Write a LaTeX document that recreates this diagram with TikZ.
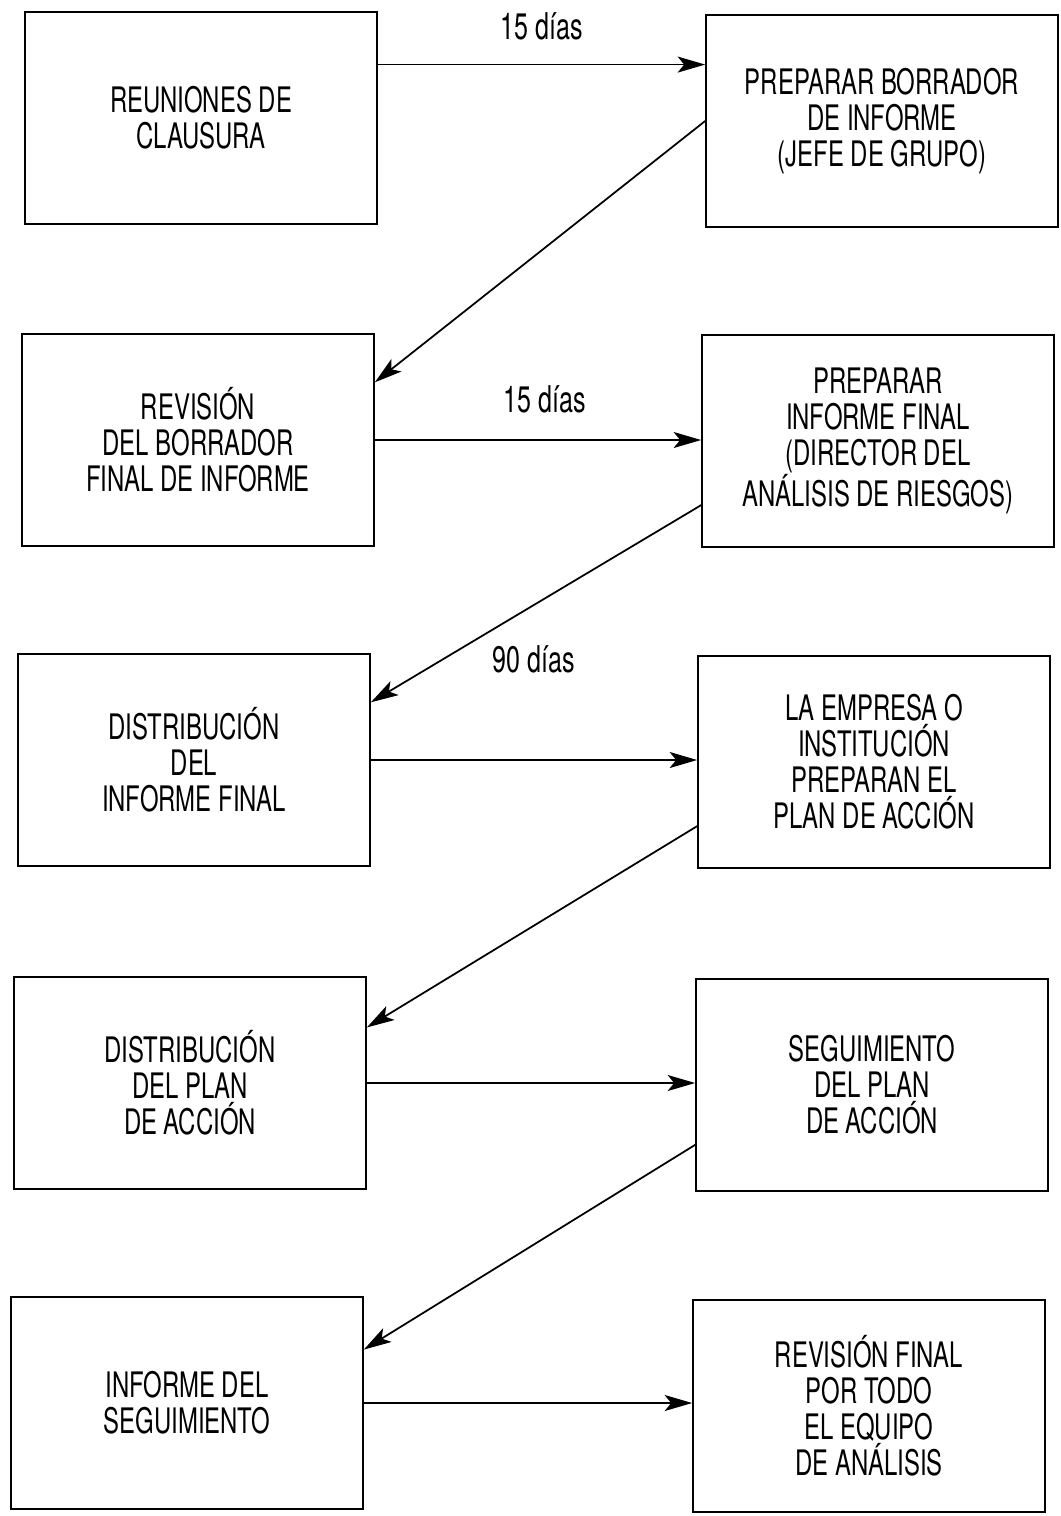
\documentclass[tikz,border=0pt]{standalone}
\usepackage{fontspec}
\setmainfont{TeX Gyre Heros}[FakeStretch=0.68]
\usepackage{tikz}
\usetikzlibrary{arrows.meta,positioning,calc}

\begin{document}
\begin{tikzpicture}[
  x=0.02cm, y=-0.02cm,
  box/.style={draw, line width=1pt, minimum width=7.04cm, minimum height=4.24cm,
              align=center, inner sep=0pt, font=\fontsize{20}{20.5}\selectfont},
  arrow/.style={-{Stealth[length=5.5mm,width=3.2mm,inset=1.3mm]},line width=1pt}
]
\useasboundingbox (0,0) rectangle (1061,1516);
% left column
\node[box] (paso1) at (201,118) {REUNIONES DE\\CLAUSURA};
\node[box] (paso3) at (198,440) {REVISIÓN\\DEL BORRADOR\\FINAL DE INFORME};
\node[box] (paso5) at (194,760) {DISTRIBUCIÓN\\DEL\\INFORME FINAL};
\node[box] (paso7) at (190,1083) {DISTRIBUCIÓN\\DEL PLAN\\DE ACCIÓN};
\node[box] (paso9) at (187,1403) {INFORME DEL\\SEGUIMIENTO};
% right column
\node[box] (paso2) at (882,121) {PREPARAR BORRADOR\\DE INFORME\\(JEFE DE GRUPO)};
\node[box] (paso4) at (878,441) {PREPARAR\\INFORME FINAL\\(DIRECTOR DEL\\ANÁLISIS DE RIESGOS)};
\node[box] (paso6) at (874,762) {LA EMPRESA O\\INSTITUCIÓN\\PREPARAN EL\\PLAN DE ACCIÓN};
\node[box] (paso8) at (872,1085) {SEGUIMIENTO\\DEL PLAN\\DE ACCIÓN};
\node[box] (paso10) at (869,1406) {REVISIÓN FINAL\\POR TODO\\EL EQUIPO\\DE ANÁLISIS};

% horizontal arrows
\coordinate (sal1) at ($(paso1.north east)!0.25!(paso1.south east)$);
\draw[arrow] (sal1) -- (sal1 -| paso2.west)
  node[font=\fontsize{21}{21}\selectfont,midway,yshift=0.76cm] {15 días};
\draw[arrow] (paso3.east) -- (paso3.east -| paso4.west)
  node[font=\fontsize{21}{21}\selectfont,midway,yshift=0.82cm,xshift=0.14cm] {15 días};
\draw[arrow] (paso5.east) -- (paso5.east -| paso6.west)
  node[font=\fontsize{21}{21}\selectfont,midway,yshift=2.02cm] {90 días};
\draw[arrow] (paso7.east) -- (paso7.east -| paso8.west);
\draw[arrow] (paso9.east) -- (paso9.east -| paso10.west);

% diagonal arrows
\draw[arrow] (paso2.west) -- ($(paso3.north east)!0.23!(paso3.south east)$);
\draw[arrow] ($(paso4.north west)!0.8!(paso4.south west)$)
  -- ($(paso5.north east)!0.23!(paso5.south east)$);
\draw[arrow] ($(paso6.north west)!0.8!(paso6.south west)$)
  -- ($(paso7.north east)!0.24!(paso7.south east)$);
\draw[arrow] ($(paso8.north west)!0.78!(paso8.south west)$)
  -- ($(paso9.north east)!0.25!(paso9.south east)$);
\end{tikzpicture}
\end{document}
